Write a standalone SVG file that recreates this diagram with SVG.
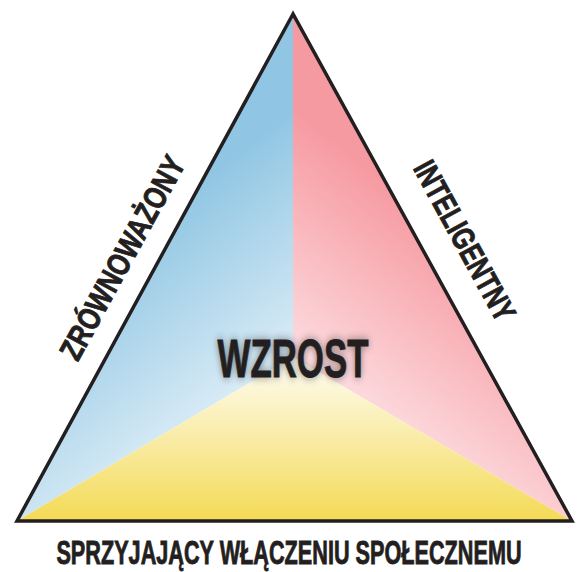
<svg xmlns="http://www.w3.org/2000/svg" width="579" height="572" viewBox="0 0 579 572">
<defs>
<linearGradient id="gBlue" gradientUnits="userSpaceOnUse" x1="165" y1="210" x2="300" y2="380">
<stop offset="0" stop-color="#90c6e3"/>
<stop offset="1" stop-color="#e4f1f9"/>
</linearGradient>
<linearGradient id="gPink" gradientUnits="userSpaceOnUse" x1="421" y1="210" x2="286" y2="380">
<stop offset="0" stop-color="#f69aa1"/>
<stop offset="1" stop-color="#fde4e7"/>
</linearGradient>
<linearGradient id="gYellow" gradientUnits="userSpaceOnUse" x1="0" y1="362" x2="0" y2="521">
<stop offset="0" stop-color="#fefcf1"/>
<stop offset="1" stop-color="#f4da55"/>
</linearGradient>
<filter id="glow" x="-30%" y="-60%" width="160%" height="220%">
<feGaussianBlur stdDeviation="5"/>
</filter>
<style>
.lbl{font-family:"Liberation Sans",Arial,sans-serif;font-weight:bold;fill:#231f20;stroke:#231f20;stroke-width:0.9;}
</style>
</defs>
<g id="regions">
<polygon id="blue" points="293,14 17,521 293,357" fill="url(#gBlue)"/>
<polygon id="pink" points="293,14 572,521 293,357" fill="url(#gPink)"/>
<polygon id="yellow" points="17,521 572,521 293,357" fill="url(#gYellow)"/>
</g>
<g id="outline">
<polygon points="293,14 17,521 572,521" fill="none" stroke="#231f20" stroke-width="3.5" stroke-linejoin="miter" stroke-miterlimit="10"/>
</g>
<g id="center">
<text transform="translate(293,377) scale(0.645,1)" x="0" y="0" text-anchor="middle" font-size="54" class="lbl" opacity="0.45" filter="url(#glow)" style="fill:#000;stroke:#000">WZROST</text>
<text transform="translate(293,377) scale(0.645,1)" x="0" y="0" text-anchor="middle" font-size="54" class="lbl">WZROST</text>
</g>
<g id="left-label">
<text transform="translate(132,263) rotate(-61.4) scale(0.792,1)" x="0" y="0" text-anchor="middle" font-size="32" class="lbl">ZRÓWNOWAŻONY</text>
</g>
<g id="right-label">
<text transform="translate(455,246) rotate(61.4) scale(0.758,1)" x="0" y="0" text-anchor="middle" font-size="32" class="lbl">INTELIGENTNY</text>
</g>
<g id="bottom-label">
<text transform="translate(289,564) scale(0.637,1)" x="0" y="0" text-anchor="middle" font-size="34" class="lbl">SPRZYJAJĄCY WŁĄCZENIU SPOŁECZNEMU</text>
</g>
</svg>
